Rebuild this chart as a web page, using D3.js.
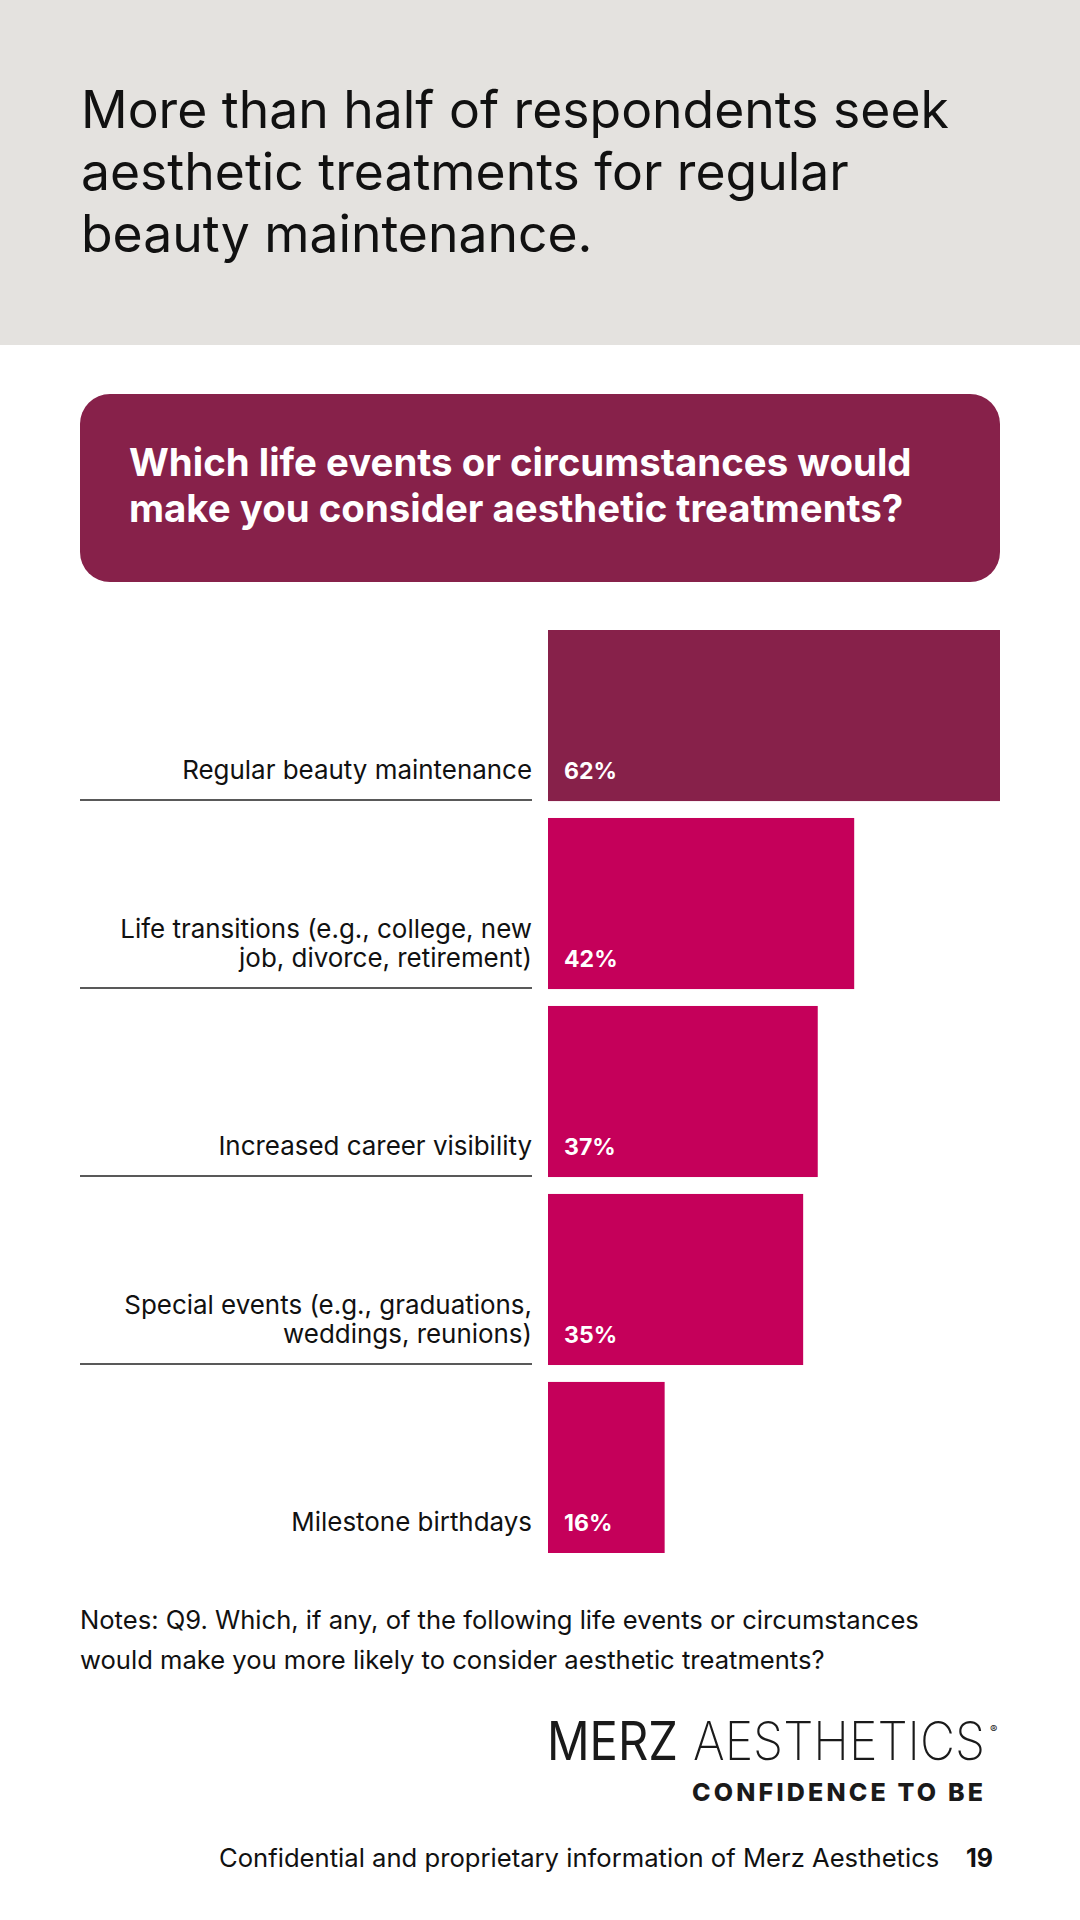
<!DOCTYPE html>
<html>
<head>
<meta charset="utf-8">
<script src="https://cdn.jsdelivr.net/npm/d3@7"></script>
<style>
  html, body { margin: 0; padding: 0; background: #fff; }
  svg { display: block; }
</style>
</head>
<body>
<svg id="chart" width="1080" height="1920"></svg>
<script>
// data
const categories = [
  ['Regular beauty maintenance'],
  ['Life transitions (e.g., college, new', 'job, divorce, retirement)'],
  ['Increased career visibility'],
  ['Special events (e.g., graduations,', 'weddings, reunions)'],
  ['Milestone birthdays'],
]
const values = [62, 42, 37, 35, 16]
const titleLines = [
  'More than half of respondents seek',
  'aesthetic treatments for regular',
  'beauty maintenance.',
]
const questionLines = [
  'Which life events or circumstances would',
  'make you consider aesthetic treatments?',
]
const noteLines = [
  'Notes: Q9. Which, if any, of the following life events or circumstances',
  'would make you more likely to consider aesthetic treatments?',
]

const font = 'Inter, "Open Sans", sans-serif'
const plum = '#87214a'
const magenta = '#c5005a'

const width = 1080
const height = 1920
const svg = d3.select('#chart')

// scale a group of texts so that one measured line gets the wanted width
function fitFont(sel, wanted, index = 0) {
  const node = sel.nodes()[index]
  const fs = parseFloat(d3.select(node).attr('font-size'))
  const w = node.getComputedTextLength()
  sel.attr('font-size', (fs * wanted) / w)
}

// squeeze a text horizontally (keeps its height) to the wanted width
function squeeze(sel, x0, y0, wanted) {
  const w = sel.node().getComputedTextLength()
  sel.attr('transform', `translate(${x0},${y0}) scale(${wanted / w},1)`)
}

// header band
svg.append('rect')
  .attr('width', width).attr('height', 345)
  .attr('fill', '#e4e2df')

const title = svg.append('g')
  .selectAll('text')
  .data(titleLines)
  .join('text')
  .attr('x', 81)
  .attr('y', (d, i) => 128 + i * 62)
  .attr('font-family', font)
  .attr('font-size', 44)
  .attr('fill', '#111')
  .text((d) => d)
fitFont(title, 868)

// question box
svg.append('rect')
  .attr('x', 80).attr('y', 394)
  .attr('width', 920).attr('height', 188)
  .attr('rx', 30)
  .attr('fill', plum)

const question = svg.append('g')
  .selectAll('text')
  .data(questionLines)
  .join('text')
  .attr('x', 129)
  .attr('y', (d, i) => 476 + i * 46)
  .attr('font-family', font)
  .attr('font-weight', 700)
  .attr('font-size', 34)
  .attr('fill', '#fff')
  .text((d) => d)
fitFont(question, 783)

// scales
const x = d3.scaleLinear()
  .domain([0, d3.max(values)])
  .range([548, 1000])

const y = d3.scaleBand()
  .domain(d3.range(values.length))
  .range([630, 1553])
  .paddingInner(0.09)

const rows = svg.append('g')
  .attr('id', 'bars')
  .selectAll('g')
  .data(values.map((v, i) => ({ value: v, label: categories[i], i })))
  .join('g')

rows.append('rect')
  .attr('x', x(0))
  .attr('y', (d) => y(d.i))
  .attr('width', (d) => x(d.value) - x(0))
  .attr('height', y.bandwidth())
  .attr('fill', (d) => (d.i === 0 ? plum : magenta))

// separator lines under every row but the last
rows.filter((d) => d.i < values.length - 1)
  .append('line')
  .attr('x1', 80).attr('x2', 532)
  .attr('y1', (d) => y(d.i) + y.bandwidth() - 1)
  .attr('y2', (d) => y(d.i) + y.bandwidth() - 1)
  .attr('stroke', '#222')
  .attr('stroke-width', 1.5)

const labels = rows.append('text')
  .attr('text-anchor', 'end')
  .attr('font-family', font)
  .attr('font-size', 25)
  .attr('fill', '#111')
labels.selectAll('tspan')
  .data((d) => d.label.map((s, k) => ({
    s,
    yy: y(d.i) + y.bandwidth() - 22 - (d.label.length - 1 - k) * 29,
  })))
  .join('tspan')
  .attr('x', 532)
  .attr('y', (d) => d.yy)
  .text((d) => d.s)
fitFont(labels, 350)

const pcts = rows.append('text')
  .attr('x', x(0) + 16)
  .attr('y', (d) => y(d.i) + y.bandwidth() - 22)
  .attr('font-family', font)
  .attr('font-weight', 700)
  .attr('font-size', 25)
  .attr('fill', '#fff')
  .text((d) => d.value + '%')
fitFont(pcts, 53)

// notes
const notes = svg.append('g')
  .selectAll('text')
  .data(noteLines)
  .join('text')
  .attr('x', 80)
  .attr('y', (d, i) => 1629 + i * 40)
  .attr('font-family', font)
  .attr('font-size', 24)
  .attr('fill', '#111')
  .text((d) => d)
fitFont(notes, 839)

// logo
const logo = svg.append('g').attr('id', 'logo')
const merz = logo.append('text')
  .attr('font-family', font)
  .attr('font-size', 53)
  .attr('font-weight', 400)
  .attr('fill', '#1a1a1a')
  .text('MERZ')
squeeze(merz, 547, 1760, 131)
const aesth = logo.append('text')
  .attr('font-family', font)
  .attr('font-size', 53)
  .attr('font-weight', 200)
  .attr('fill', '#1a1a1a')
  .text('AESTHETICS')
squeeze(aesth, 693, 1760, 292)
logo.append('text')
  .attr('x', 990).attr('y', 1733)
  .attr('font-family', font)
  .attr('font-size', 11)
  .attr('fill', '#1a1a1a')
  .text('®')
logo.append('text')
  .attr('x', 692).attr('y', 1801)
  .attr('font-family', font)
  .attr('font-size', 25)
  .attr('font-weight', 800)
  .attr('fill', '#1a1a1a')
  .attr('textLength', 291)
  .attr('lengthAdjust', 'spacing')
  .text('CONFIDENCE TO BE')

// footer
const footer = svg.append('text')
  .attr('x', 219).attr('y', 1867)
  .attr('font-family', font)
  .attr('font-size', 24)
  .attr('fill', '#111')
  .text('Confidential and proprietary information of Merz Aesthetics')
fitFont(footer, 721)
svg.append('text')
  .attr('x', 993).attr('y', 1867)
  .attr('text-anchor', 'end')
  .attr('font-family', font)
  .attr('font-size', 25)
  .attr('font-weight', 700)
  .attr('fill', '#111')
  .text('19')
</script>
</body>
</html>
